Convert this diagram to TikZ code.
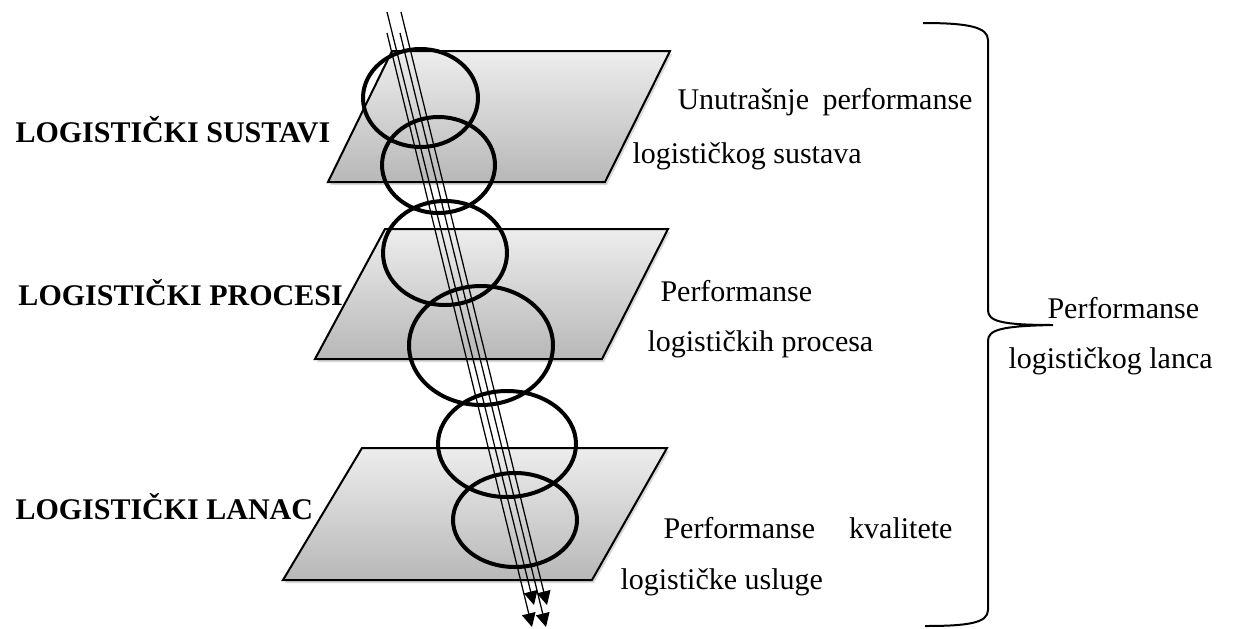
\documentclass[tikz,border=0pt]{standalone}
\usepackage{fontspec}
\setmainfont{Liberation Serif}
\usetikzlibrary{arrows.meta,shadows}

\begin{document}
\begin{tikzpicture}[x=0.4pt,y=-0.4pt,
  plane/.style={draw=black,line width=0.8pt,top color=black!7,bottom color=black!28,
    drop shadow={opacity=0.3,shadow xshift=0.8pt,shadow yshift=-1.2pt}},
  ring/.style={line width=1.6pt},
  flow/.style={line width=0.5pt,-{Triangle[length=5.5pt,width=5.5pt]}},
  level/.style={font=\fontsize{12}{14}\selectfont\bfseries,inner sep=0pt,anchor=base west},
  txt/.style={font=\fontsize{12}{14}\selectfont,inner sep=0pt,anchor=base west}]
  \useasboundingbox (0,0) rectangle (1241,628);

  \draw[plane] (392,51) -- (670,51) -- (605,182) -- (328,182) -- cycle;
  \draw[plane] (385,229) -- (668,229) -- (602,359) -- (315,359) -- cycle;
  \draw[plane] (362,448) -- (667,448) -- (592,580) -- (283,580) -- cycle;

  \draw[ring] (420.5,98) ellipse [x radius=57.5,y radius=49];
  \draw[ring] (438.5,165) ellipse [x radius=56.5,y radius=48];
  \draw[ring] (445,253) ellipse [x radius=62,y radius=52];
  \draw[ring] (481,345.5) ellipse [x radius=72,y radius=59.5];
  \draw[ring] (507,444) ellipse [x radius=69,y radius=53];
  \draw[ring] (515,520) ellipse [x radius=62,y radius=47];

  \coordinate (s1) at (387,12);  \coordinate (e1) at (534,605);
  \coordinate (s2) at (401,12);  \coordinate (e2) at (547,605);
  \coordinate (s3) at (387,33);  \coordinate (e3) at (532,627);
  \coordinate (s4) at (400,33);  \coordinate (e4) at (546,627);
  \draw[flow] (s1) -- (e1);
  \draw[flow] (s2) -- (e2);
  \draw[flow] (s3) -- (e3);
  \draw[flow] (s4) -- (e4);

  \node (sustavi) [level] at (15,142) {LOGISTIČKI SUSTAVI};
  \node (procesi) [level] at (18,305) {LOGISTIČKI PROCESI};
  \node (lanac) [level] at (15,519) {LOGISTIČKI LANAC};

  \node (p1a) [txt] at (677,109) {\makebox[118pt][s]{Unutrašnje performanse}};
  \node (p1b) [txt] at (632,163) {logističkog sustava};
  \node (p2a) [txt] at (660,301) {Performanse};
  \node (p2b) [txt] at (647,351) {logističkih procesa};
  \node (p3a) [txt] at (663,538) {\makebox[115.6pt][s]{Performanse kvalitete}};
  \node (p3b) [txt] at (620,589) {logističke usluge};

  \draw[line width=0.8pt] (923,23) .. controls (968,23) and (988,27) .. (988,40)
    -- (988,310) .. controls (988,321) and (1000,325) .. (1053,325)
    .. controls (1000,326) and (988,330) .. (988,341)
    -- (988,610) .. controls (988,623) and (968,626) .. (925,626);
  \node (lancaa) [txt] at (1047,318) {Performanse};
  \node (lancab) [txt] at (1008,368) {logističkog lanca};
\end{tikzpicture}
\end{document}
